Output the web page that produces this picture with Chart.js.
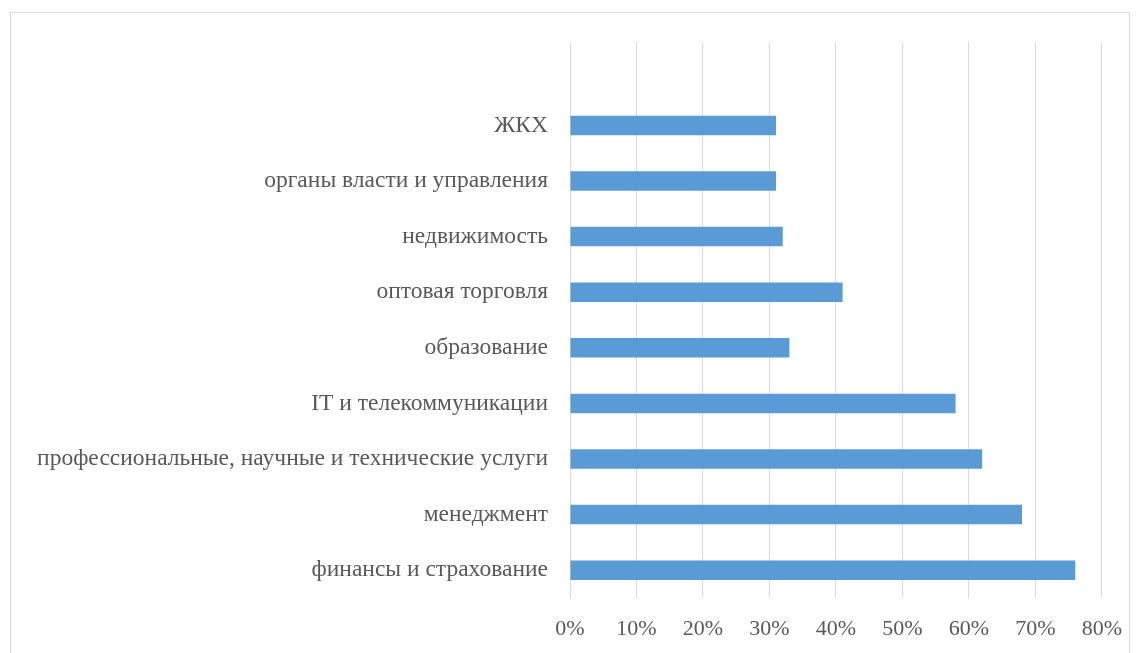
<!DOCTYPE html>
<html>
<head>
<meta charset="utf-8">
<script src="https://cdn.jsdelivr.net/npm/chart.js@4/dist/chart.umd.min.js"></script>
<style>
  html, body { margin: 0; padding: 0; background: #fff; }
  #wrap { position: relative; width: 1140px; height: 653px; overflow: hidden; }
  #frame { position: absolute; left: 10px; top: 12px; width: 1120px; height: 700px; border: 1px solid #d9d9d9; box-sizing: border-box; }
  canvas { position: absolute; left: 0; top: 0; }
</style>
</head>
<body>
<div id="wrap">
  <div id="frame"></div>
  <canvas id="myChart" width="1140" height="653"></canvas>
</div>
<script>
// categories top to bottom (first row is empty in the original)
var labels = [
  "",
  "ЖКХ",
  "органы власти и управления",
  "недвижимость",
  "оптовая торговля",
  "образование",
  "IT и телекоммуникации",
  "профессиональные, научные и технические услуги",
  "менеджмент",
  "финансы и страхование"
];
var values = [null, 31, 31, 32, 41, 33, 58, 62, 68, 76];
var xTicks = [0, 10, 20, 30, 40, 50, 60, 70, 80];

var barColor = "#5b9bd5";
var gridColor = "#d9d9d9";
var textColor = "#595959";
var serif = "'Liberation Serif', 'Times New Roman', serif";

new Chart("myChart", {
  type: "bar",
  data: {
    labels: labels,
    datasets: [{
      data: values,
      backgroundColor: barColor,
      borderWidth: 0,
      barPercentage: 0.35,
      categoryPercentage: 1
    }]
  },
  options: {
    indexAxis: "y",
    responsive: false,
    animation: false,
    layout: { padding: { left: 0, top: 42, right: 36, bottom: 0 } },
    plugins: {
      legend: { display: false },
      tooltip: { enabled: false }
    },
    scales: {
      x: {
        min: 0,
        max: 80,
        afterBuildTicks: function (scale) {
          scale.ticks = xTicks.map(function (v) { return { value: v }; });
        },
        afterFit: function (scale) { scale.height = 55; },
        grid: { color: gridColor, lineWidth: 1, drawTicks: false },
        border: { display: false },
        ticks: {
          padding: 18,
          color: textColor,
          font: { family: serif, size: 22 },
          callback: function (v) { return v + "%"; }
        }
      },
      y: {
        afterFit: function (scale) { scale.width = 570; },
        grid: { display: false, drawTicks: false },
        border: { display: true, color: gridColor, width: 1 },
        ticks: {
          padding: 22,
          color: textColor,
          font: { family: serif, size: 23.5 }
        }
      }
    }
  }
});
</script>
</body>
</html>
